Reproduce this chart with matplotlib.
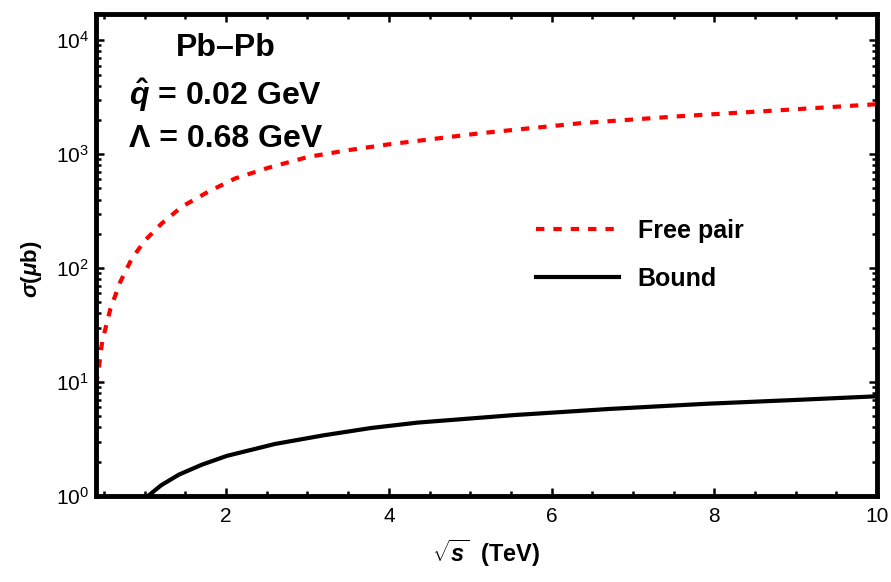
import numpy as np
import matplotlib.pyplot as plt
from matplotlib.ticker import MultipleLocator, LogLocator, NullFormatter

# values (sqrt(s) in TeV, sigma in microbarn)
free_x = [0.40, 0.43, 0.476, 0.578, 0.70, 0.843, 1.006, 1.21, 1.456, 1.78,
          2.11, 2.52, 3.01, 3.50, 3.99, 5.13, 6.36, 7.58, 8.81, 10.0]
free_y = [9.5, 12.3, 22.6, 44, 76, 122, 176, 247, 346, 468,
          612, 760, 947, 1084, 1217, 1528, 1871, 2154, 2431, 2746]

bound_x = [1.04, 1.2, 1.42, 1.7, 2.01, 2.60, 3.19, 3.78, 4.36, 5.54, 6.72,
           7.89, 9.07, 10.0]
bound_y = [1.0, 1.24, 1.54, 1.88, 2.25, 2.86, 3.40, 3.95, 4.41, 5.13, 5.81,
           6.44, 7.0, 7.5]

plt.rcParams['font.family'] = ['Liberation Sans', 'DejaVu Sans']
plt.rcParams['mathtext.fontset'] = 'custom'
plt.rcParams['mathtext.it'] = 'Liberation Sans:italic:bold'
plt.rcParams['mathtext.rm'] = 'Liberation Sans:bold'
plt.rcParams['mathtext.bf'] = 'Liberation Sans:bold'
plt.rcParams['lines.scale_dashes'] = False

fig = plt.figure(figsize=(8.91, 5.82), dpi=100)
ax = fig.add_axes([0.1077, 0.1478, 0.8766, 0.8282])

ax.plot(free_x, free_y, color='red', lw=3, dashes=[6, 6.5],
        dash_capstyle='butt', label='Free pair')
ax.plot(bound_x, bound_y, color='black', lw=3, label='Bound')

ax.set_yscale('log')
ax.set_xlim(0.4, 10)
ax.set_ylim(1, 1.7e4)

ax.xaxis.set_major_locator(MultipleLocator(2))
ax.xaxis.set_minor_locator(MultipleLocator(0.5))
ax.yaxis.set_major_locator(LogLocator(base=10, numticks=10))
ax.yaxis.set_minor_locator(LogLocator(base=10, subs=np.arange(2, 10), numticks=20))
ax.yaxis.set_minor_formatter(NullFormatter())

ax.tick_params(which='both', direction='in', top=True, right=True,
               labelsize=15, width=1.8)
ax.tick_params(axis='x', pad=8)
ax.tick_params(axis='y', pad=5)
ax.tick_params(which='major', length=6)
ax.tick_params(which='minor', length=3.5)
for s in ax.spines.values():
    s.set_linewidth(3.5)

ax.set_xlabel(r'$\sqrt{s}$  (TeV)', fontsize=17, fontweight='bold', labelpad=8)
ax.set_ylabel(r'$\sigma(\mu$b)', fontsize=16, fontweight='bold')
ax.yaxis.set_label_coords(-0.066, 0.47)

ax.text(0.166, 0.93, 'Pb\u2013Pb', transform=ax.transAxes, ha='center',
        va='center', fontsize=23, fontweight='bold')
ax.text(0.166, 0.832, r'$\hat{q}$ = 0.02 GeV', transform=ax.transAxes,
        ha='center', va='center', fontsize=23, fontweight='bold')
ax.text(0.166, 0.74, '\u039b = 0.68 GeV', transform=ax.transAxes,
        ha='center', va='center', fontsize=23, fontweight='bold')

leg = ax.legend(loc='center left', bbox_to_anchor=(0.535, 0.5), frameon=False,
                prop={'weight': 'bold', 'size': 18}, handlelength=3.3,
                handletextpad=0.75, labelspacing=0.95)

fig.savefig('out.png', dpi=100, facecolor='white')
